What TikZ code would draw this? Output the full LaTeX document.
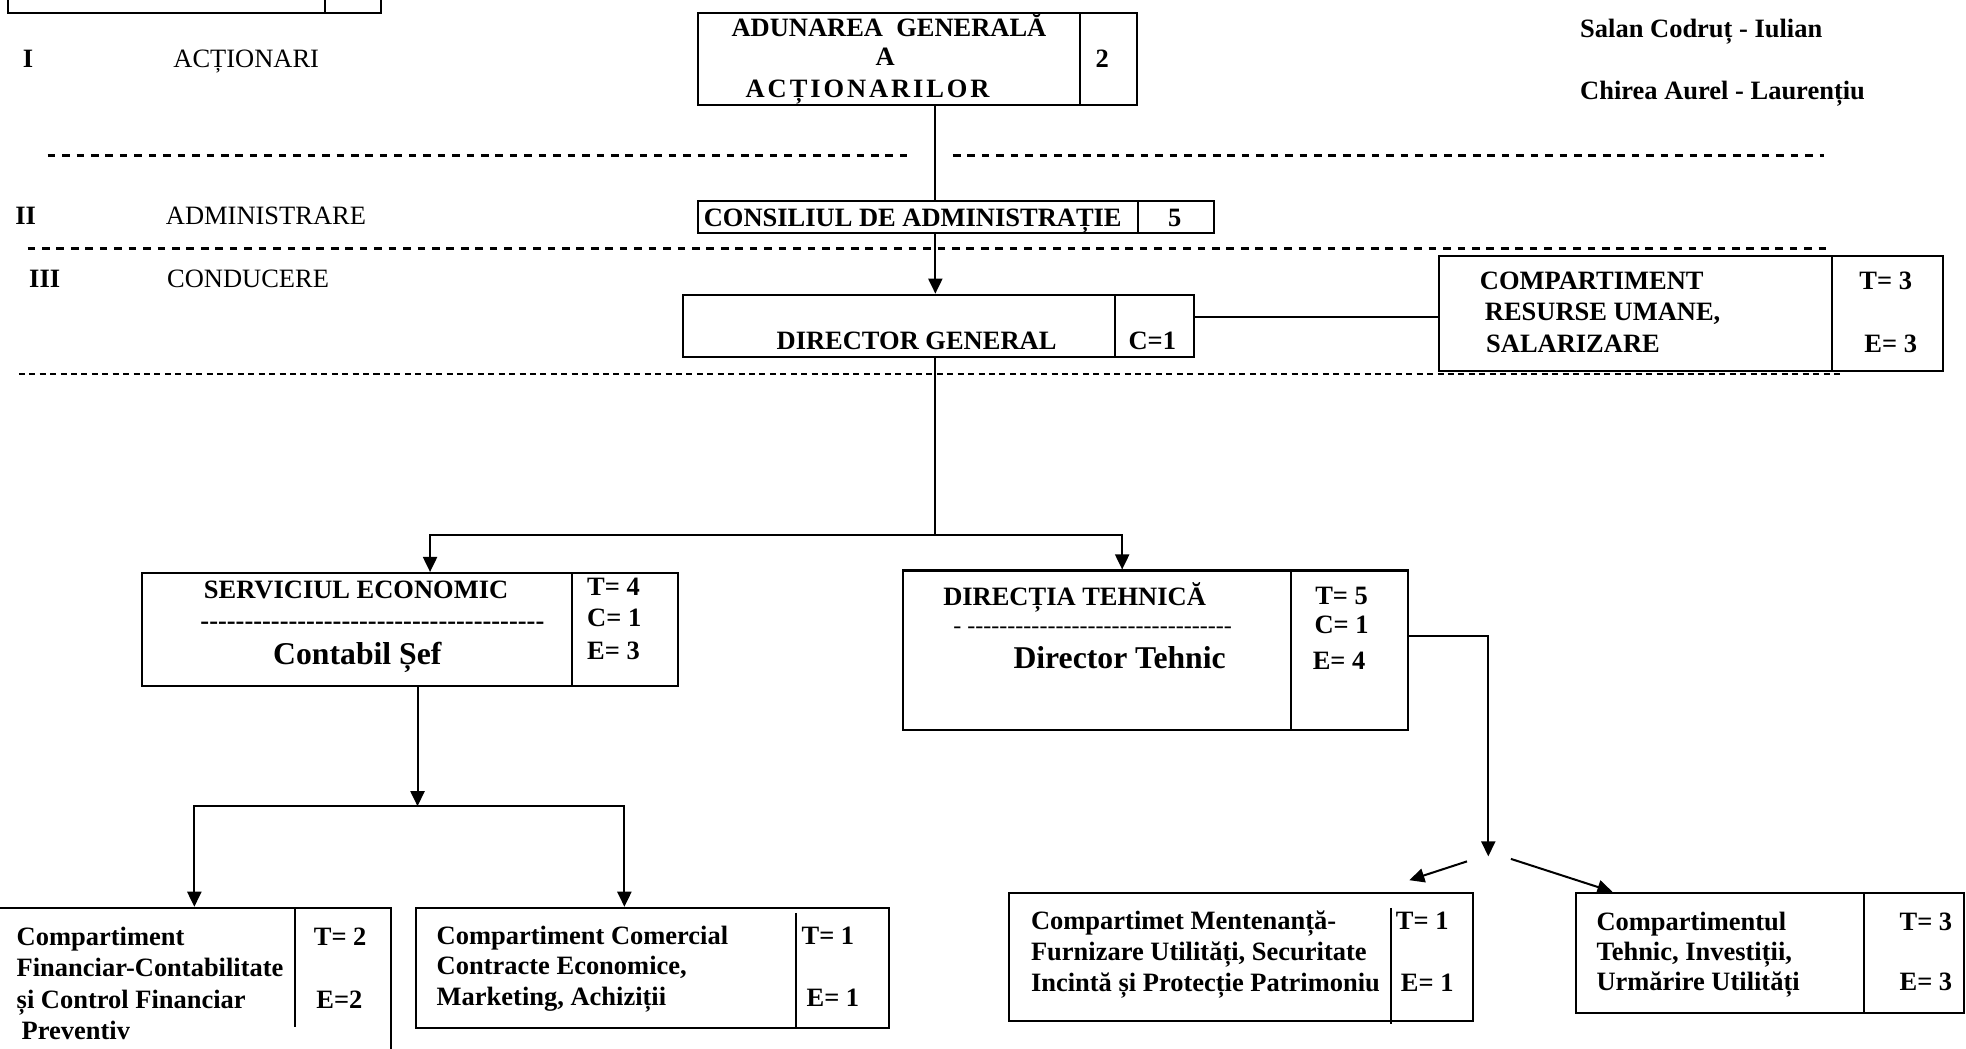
\documentclass[tikz,border=0pt]{standalone}
\usepackage{fontspec}
\setmainfont{Liberation Serif}
\usetikzlibrary{arrows.meta,fit}
\newcommand\hyph[1]{\foreach \k in {1,...,#1}{-\kern0pt}}
\tikzset{
  bx/.style={draw, line width=1pt, inner sep=0pt},
  tb/.style={inner sep=0pt, font=\fontsize{13.2}{15}\selectfont\bfseries},
  tr/.style={inner sep=0pt, font=\fontsize{13.2}{15}\selectfont},
  tbig/.style={inner sep=0pt, font=\fontsize{15.8}{18}\selectfont\bfseries},
  tsm/.style={inner sep=0pt, font=\fontsize{12}{14}\selectfont},
  ln/.style={line width=1pt},
  arr/.style={line width=1pt, -{Triangle[width=7pt,length=7.5pt]}},
  dsh/.style={line width=1.3pt, dash pattern=on 3.8pt off 3.4pt},
  dshthin/.style={line width=0.9pt, dash pattern=on 3pt off 2.2pt},
}
\begin{document}
\begin{tikzpicture}[x=0.625pt,y=-0.625pt]
\path[use as bounding box] (0,0) rectangle (1568,836);
\clip (0,0) rectangle (1568,836);
% ---------- top-left box
\node[bx, fit={(6,-30)(304,10)}] (tl) {};
\draw[ln] (259,-30) -- (259,10);
% ---------- tier labels
\node[tb, anchor=base west] (l1) at (18,54) {I};
\node[tr, anchor=base west] (l1t) at (138,54) {ACȚIONARI};
\node[tb, anchor=base west] (l2) at (12,179) {II};
\node[tr, anchor=base west] (l2t) at (132,179) {ADMINISTRARE};
\node[tb, anchor=base west] (l3) at (23,229) {III};
\node[tr, anchor=base west] (l3t) at (133,229) {CONDUCERE};
% ---------- names
\node[tb, anchor=base west] (nm1) at (1260,30) {Salan Codruț - Iulian};
\node[tb, anchor=base west] (nm2) at (1260,79) {Chirea Aurel - Laurențiu};
% ---------- dashed separators
\draw[dsh] (38,124) -- (728,124);
\draw[dsh] (760,124) -- (1455,124);
\draw[dsh] (22,198) -- (1457,198);
\draw[dshthin] (15,298) -- (1468,298);
% ---------- AGA
\node[bx, fit={(557,10)(907,84)}] (aga) {};
\draw[ln] (861,10) -- (861,84);
\node[tb, anchor=base] (aga1) at (709,29) {ADUNAREA\ \ GENERALĂ};
\node[tb, anchor=base] (aga2) at (706,52) {A};
\node[tb, anchor=base] (aga3) at (692,78) {\addfontfeature{LetterSpace=11}ACȚIONARILOR};
\node[tb, anchor=base] (aga4) at (879,54) {2};
% ---------- Consiliul
\node[bx, fit={(557,160)(968,186)}] (cons) {};
\draw[ln] (908,160) -- (908,186);
\node[tb, anchor=base west] (cons1) at (561,181) {CONSILIUL DE ADMINISTRAȚIE};
\node[tb, anchor=base] (cons2) at (937,181) {5};
% ---------- Director general
\node[bx, fit={(545,235)(952,285)}] (dg) {};
\draw[ln] (889,235) -- (889,285);
\node[tb, anchor=base] (dg1) at (731,279) {DIRECTOR GENERAL};
\node[tb, anchor=base] (dg2) at (919,279) {C=1};
% ---------- Resurse umane
\node[bx, fit={(1148,204)(1550,296)}] (ru) {};
\draw[ln] (1461,204) -- (1461,296);
\node[tb, anchor=base west] (ru1) at (1180,231) {COMPARTIMENT};
\node[tb, anchor=base west] (ru2) at (1184,256) {RESURSE UMANE,};
\node[tb, anchor=base west] (ru3) at (1185,281) {SALARIZARE};
\node[tb, anchor=base] (ru4) at (1504,231) {T= 3};
\node[tb, anchor=base] (ru5) at (1508,281) {E= 3};
% ---------- Serviciul economic
\node[bx, fit={(113,457)(541,547)}] (se) {};
\draw[ln] (456,457) -- (456,547);
\node[tb, anchor=base] (se1) at (284,477) {SERVICIUL ECONOMIC};
\node[tb, anchor=base] (se2) at (297,502) {\hyph{39}};
\node[tbig, anchor=base] (se3) at (285,530) {Contabil Șef};
\node[tb, anchor=base west] (se4) at (468,475) {T= 4};
\node[tb, anchor=base west] (se5) at (468,500) {C= 1};
\node[tb, anchor=base west] (se6) at (468,526) {E= 3};
% ---------- Directia tehnica
\node[bx, fit={(720,455)(1123,582)}] (dt) {};
\draw[ln] (1030,455) -- (1030,582);
\node[tb, anchor=base west] (dt1) at (752,483) {DIRECȚIA TEHNICĂ};
\node[tsm, anchor=base west] (dt2) at (760,505) {- \hyph{33}};
\node[tbig, anchor=base west] (dt3) at (808,533) {Director Tehnic};
\node[tb, anchor=base] (dt4) at (1070,482) {T= 5};
\node[tb, anchor=base] (dt5) at (1070,505) {C= 1};
\node[tb, anchor=base] (dt6) at (1068,534) {E= 4};
% ---------- bottom boxes
\node[bx, fit={(-10,724)(312,860)}] (fc) {};
\draw[ln] (235,724) -- (235,819);
\node[tb, anchor=base west] (fc1) at (13,754) {Compartiment};
\node[tb, anchor=base west] (fc2) at (13,779) {Financiar-Contabilitate};
\node[tb, anchor=base west] (fc3) at (13,804) {și Control Financiar};
\node[tb, anchor=base west] (fc4) at (17,829) {Preventiv};
\node[tb, anchor=base west] (fc5) at (250,754) {T= 2};
\node[tb, anchor=base west] (fc6) at (252,804) {E=2};

\node[bx, fit={(332,724)(709,820)}] (cc) {};
\draw[ln] (635,728) -- (635,820);
\node[tb, anchor=base west] (cc1) at (348,753) {Compartiment Comercial};
\node[tb, anchor=base west] (cc2) at (348,777) {Contracte Economice,};
\node[tb, anchor=base west] (cc3) at (348,802) {Marketing, Achiziții};
\node[tb, anchor=base west] (cc4) at (639,753) {T= 1};
\node[tb, anchor=base west] (cc5) at (643,803) {E= 1};

\node[bx, fit={(805,712)(1175,814)}] (cm) {};
\draw[ln] (1109.5,724) -- (1109.5,817);
\node[tb, anchor=base west] (cm1) at (822,741) {Compartimet Mentenanță-};
\node[tb, anchor=base west] (cm2) at (822,766) {Furnizare Utilități, Securitate};
\node[tb, anchor=base west] (cm3) at (822,791) {Incintă și Protecție Patrimoniu};
\node[tb, anchor=base west] (cm4) at (1113,741) {T= 1};
\node[tb, anchor=base west] (cm5) at (1117,791) {E= 1};

\node[bx, fit={(1257,712)(1566,808)}] (ct) {};
\draw[ln] (1487,712) -- (1487,808);
\node[tb, anchor=base west] (ct1) at (1273,742) {Compartimentul};
\node[tb, anchor=base west] (ct2) at (1273,766) {Tehnic, Investiții,};
\node[tb, anchor=base west] (ct3) at (1273,790) {Urmărire Utilități};
\node[tb, anchor=base] (ct4) at (1536,742) {T= 3};
\node[tb, anchor=base] (ct5) at (1536,790) {E= 3};
% ---------- connectors
\coordinate (tx) at (746,0);
\draw[ln] (aga.south -| tx) -- (cons.north -| tx);
\draw[arr] (cons.south -| tx) -- (dg.north -| tx);
\coordinate (hr) at (1000,253);
\draw[ln] (dg.east |- hr) -- (ru.west |- hr);
\coordinate (j1) at (746,427);
\coordinate (sex) at (343,0);
\coordinate (dtx) at (895,0);
\draw[ln] (dg.south -| tx) -- (j1);
\draw[arr] (j1) -| (se.north -| sex);
\draw[arr] (j1) -| (dt.north -| dtx);
\coordinate (sx2) at (333,0);
\coordinate (j2) at (333,643);
\coordinate (fcx) at (155,0);
\coordinate (ccx) at (498,0);
\draw[arr] (se.south -| sx2) -- (j2);
\draw[arr] (j2) -| (fc.north -| fcx);
\draw[arr] (j2) -| (cc.north -| ccx);
\coordinate (k1) at (1187,507);
\coordinate (k2) at (1187,683);
\draw[arr] (dt.east |- k1) -| (k2);
\coordinate (d1s) at (1170,687);
\coordinate (d1e) at (1124,702);
\draw[arr] (d1s) -- (d1e);
\coordinate (d2s) at (1205,685);
\coordinate (d2x) at (1286,0);
\draw[arr] (d2s) -- (ct.north -| d2x);
\end{tikzpicture}
\end{document}
